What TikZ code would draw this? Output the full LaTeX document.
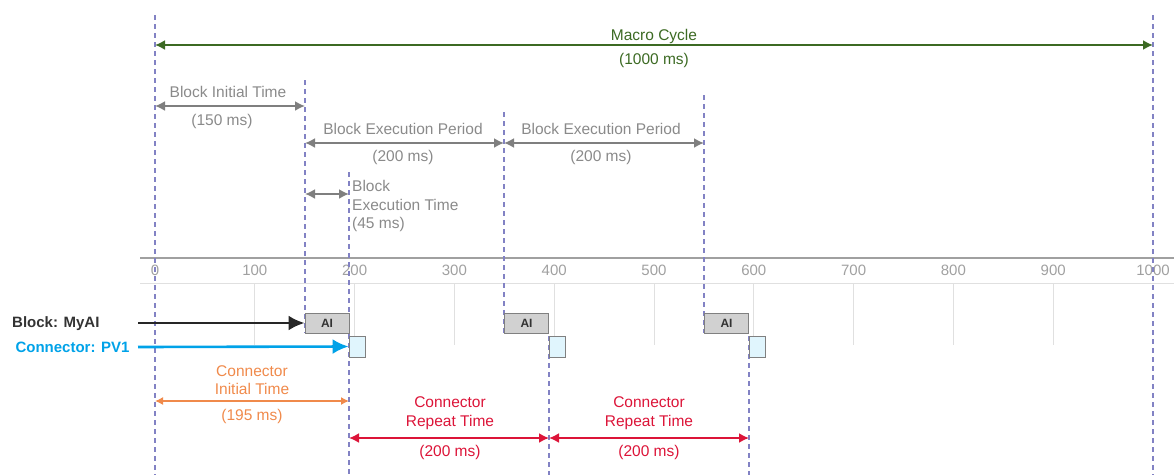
\documentclass[tikz,border=0pt]{standalone}
\usepackage{fontspec}
\setmainfont{Liberation Sans}
\usepackage{xcolor}
\usetikzlibrary{arrows.meta, positioning}
\definecolor{mcgreen}{HTML}{3C6A23}
\definecolor{spangray}{HTML}{7F7F7F}
\definecolor{txtgray}{HTML}{8A8A8A}
\definecolor{dashblue}{HTML}{8282C4}
\definecolor{cigorange}{HTML}{F08A4B}
\definecolor{crtred}{HTML}{DC1438}
\definecolor{pvblue}{HTML}{00A2E8}
\definecolor{axisgray}{HTML}{A0A0A0}
\definecolor{gridgray}{HTML}{E0E0E0}

\begin{document}
\begin{tikzpicture}[x=1pt, y=-1pt,
    font=\fontsize{15.5}{18.5}\selectfont,
    span/.style={{Latex[length=10pt,width=10pt]}-{Latex[length=10pt,width=10pt]}, line width=1.8pt},
    markline/.style={draw=dashblue, line width=1.1pt, dash pattern=on 5pt off 4pt},
    ticklabel/.style={text=axisgray, font=\fontsize{15}{16}\selectfont},
    rowarrow/.style={-{Latex[length=16pt,width=15pt]}, line width=2.6pt},
    aibox/.style={draw=gray, fill=black!18, line width=0.9pt, minimum width=44pt, minimum height=20pt,
        inner sep=0pt, font=\fontsize{12}{13}\selectfont\bfseries, text=black!80},
    pvbox/.style={draw=gray, fill=cyan!12, line width=0.9pt, minimum width=16pt, minimum height=21pt, inner sep=0pt},
    rowlabel/.style={anchor=east, font=\fontsize{15}{18}\selectfont\bfseries}]
    \useasboundingbox (0,0) rectangle (1174,475);

    % time axis
    \draw[axisgray, line width=1.5pt] (140,258) -- (1174,258);
    \draw[gridgray, line width=1pt] (140,283) -- (1174,283);
    \foreach \t in {100,200,...,900} {
        \draw[gridgray, line width=1pt] ({155+0.998*\t},283) -- ({155+0.998*\t},345);
    }
    \foreach \t in {0,100,...,1000} {
        \node[ticklabel] (tick\t) at ({155+0.998*\t},270) {\t};
    }

    % dashed time marks
    \foreach \x/\a/\b in {155/15/475, 305/80/333, 349/172/475, 504/112/333,
                          549/336/475, 704/95/333, 749/336/475, 1153/15/475} {
        \draw[markline] (\x,\a) -- (\x,\b);
    }

    % blocks and connector runs
    \node[aibox] (ai1) at (327,323) {AI};
    \node[aibox] (ai2) at (526.5,323) {AI};
    \node[aibox] (ai3) at (726.5,323) {AI};
    \node[pvbox] (pv1) at (357,346.5) {};
    \node[pvbox] (pv2) at (557,346.5) {};
    \node[pvbox] (pv3) at (757,346.5) {};

    \node[rowlabel, text=black!80] (blk) at (103,324) {Block: MyAI};
    \node[rowlabel, text=pvblue] (con) at (133,347) {Connector: PV1};
    \coordinate (blkstart) at (138,323);
    \coordinate (constart) at (138,347);
    \draw[rowarrow, black!85] (blkstart) -- (ai1.west);
    \draw[rowarrow, pvblue] (constart) -- (pv1.west);

    % macro cycle
    \coordinate (mc0) at (155,45);
    \coordinate (mc1) at (1153,45);
    \draw[span, mcgreen] (mc0) -- (mc1);
    \node[text=mcgreen] (mctop) at (654,36) {Macro Cycle};
    \node[text=mcgreen] (mcbot) at (654,60) {(1000 ms)};

    % block timings
    \coordinate (bi0) at (155,106);
    \coordinate (bi1) at (305,106);
    \draw[span, spangray] (bi0) -- (bi1);
    \node[text=txtgray] (bitop) at (228,92) {Block Initial Time};
    \node[text=txtgray] (bibot) at (222,121) {(150 ms)};

    \coordinate (bp0) at (305,143);
    \coordinate (bp1) at (504,143);
    \coordinate (bp2) at (704,143);
    \draw[span, spangray] (bp0) -- (bp1);
    \draw[span, spangray] (bp1) -- (bp2);
    \node[text=txtgray] (bp1top) at (403,129) {Block Execution Period};
    \node[text=txtgray] (bp1bot) at (403,157) {(200 ms)};
    \node[text=txtgray] (bp2top) at (601,129) {Block Execution Period};
    \node[text=txtgray] (bp2bot) at (601,157) {(200 ms)};

    \coordinate (be0) at (305,194);
    \coordinate (be1) at (349,194);
    \draw[span, spangray] (be0) -- (be1);
    \node[text=txtgray, align=left, anchor=west, inner sep=0pt] (betxt) at (352,206)
        {Block\\Execution Time\\(45 ms)};

    % connector timings
    \coordinate (ci0) at (155,401);
    \coordinate (ci1) at (349,401);
    \draw[{Latex[length=8pt,width=8pt]}-{Latex[length=8pt,width=8pt]}, line width=1.4pt, cigorange] (ci0) -- (ci1);
    \node[text=cigorange, align=center] (citop) at (252,380) {Connector\\Initial Time};
    \node[text=cigorange] (cibot) at (252,416) {(195 ms)};

    \coordinate (cr0) at (349,438);
    \coordinate (cr1) at (549,438);
    \coordinate (cr2) at (749,438);
    \draw[span, crtred] (cr0) -- (cr1);
    \draw[span, crtred] (cr1) -- (cr2);
    \node[text=crtred, align=center] (cr1top) at (450,413) {Connector\\Repeat Time};
    \node[text=crtred] (cr1bot) at (450,452) {(200 ms)};
    \node[text=crtred, align=center] (cr2top) at (649,413) {Connector\\Repeat Time};
    \node[text=crtred] (cr2bot) at (649,452) {(200 ms)};
\end{tikzpicture}
\end{document}
